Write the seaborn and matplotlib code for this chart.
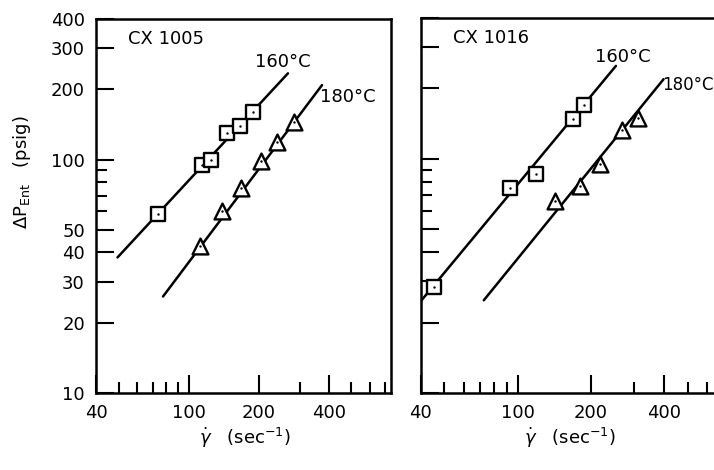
import numpy as np
import pandas as pd
import matplotlib
matplotlib.use("Agg")
import matplotlib.pyplot as plt
import seaborn as sns
from matplotlib.ticker import FixedLocator, FixedFormatter, NullFormatter

# ---- data ----
# CX 1005
cx1005_160_shear = [73.5, 114, 124.8, 146.6, 166.6, 189.4]
cx1005_160_dp = [58.3, 95, 99.5, 129.5, 139.6, 159.3]
cx1005_180_shear = [112.2, 139.7, 167.8, 204.6, 240.3, 282.3]
cx1005_180_dp = [42.6, 60.4, 75.7, 98.6, 119.2, 144.3]
cx1005_160_fit_shear = [49.5, 267]
cx1005_160_fit_dp = [38.1, 234]
cx1005_180_fit_shear = [77.6, 374]
cx1005_180_fit_dp = [25.9, 208.4]

# CX 1016
cx1016_160_shear = [45.3, 92.7, 118.9, 168.5, 187]
cx1016_160_dp = [28.4, 75.3, 86.4, 147.6, 170]
cx1016_180_shear = [141.8, 180.7, 216.8, 267.6, 311]
cx1016_180_dp = [66.4, 76.5, 94.7, 132.9, 149.1]
cx1016_160_fit_shear = [38.5, 252.9]
cx1016_160_fit_dp = [23.5, 249.7]
cx1016_180_fit_shear = [72.6, 396.6]
cx1016_180_fit_dp = [24.9, 219]

x_tick_values = [40, 100, 200, 400]
x_tick_labels = ["40", "100", "200", "400"]
x_minor_values = [50, 60, 70, 80, 90, 300, 500, 600, 700]
y_tick_values = [10, 20, 30, 40, 50, 100, 200, 300, 400]
y_tick_labels = ["10", "20", "30", "40", "50", "100", "200", "300", "400"]
y_minor_values = [60, 70, 80, 90]

sns.set_style("ticks")
plt.rcParams["font.family"] = ["DejaVu Sans"]
plt.rcParams["mathtext.fontset"] = "dejavusans"
plt.rcParams["text.color"] = "black"
plt.rcParams["axes.labelcolor"] = "black"
plt.rcParams["xtick.color"] = "black"
plt.rcParams["ytick.color"] = "black"

W, H = 714, 470
fig = plt.figure(figsize=(W / 100, H / 100), dpi=100)
fig.patch.set_facecolor("white")

ax1 = fig.add_axes([96 / W, (H - 393) / H, 295 / W, 374 / H])
ax2 = fig.add_axes([420.7 / W, (H - 393) / H, 303 / W, 375 / H])


def style_axis(ax, show_ylabels, xlim):
    ax.set_xscale("log")
    ax.set_yscale("log")
    ax.set_xlim(*xlim)
    ax.set_ylim(10, 400)
    ax.xaxis.set_major_locator(FixedLocator(x_tick_values))
    ax.xaxis.set_major_formatter(FixedFormatter(x_tick_labels))
    ax.xaxis.set_minor_locator(FixedLocator(x_minor_values))
    ax.xaxis.set_minor_formatter(NullFormatter())
    ax.yaxis.set_major_locator(FixedLocator(y_tick_values))
    if show_ylabels:
        ax.yaxis.set_major_formatter(FixedFormatter(y_tick_labels))
    else:
        ax.yaxis.set_major_formatter(NullFormatter())
    ax.yaxis.set_minor_locator(FixedLocator(y_minor_values))
    ax.yaxis.set_minor_formatter(NullFormatter())
    ax.tick_params(which="major", direction="in", length=13, width=1.5,
                   labelsize=13, pad=8, color="black", labelcolor="black")
    ax.tick_params(which="minor", direction="in", length=8, width=1.5,
                   color="black")
    ax.tick_params(top=False, right=False, which="both")
    for s in ax.spines.values():
        s.set_linewidth(1.8)
        s.set_color("black")
    ax.set_xlabel("")
    ax.set_ylabel("")
    ax.grid(False)
    ax.set_facecolor("white")


def draw_panel(ax, s160, d160, s180, d180, f160x, f160y, f180x, f180y):
    sns.lineplot(x=f160x, y=f160y, ax=ax, color="black", lw=1.8, legend=False)
    sns.lineplot(x=f180x, y=f180y, ax=ax, color="black", lw=1.8, legend=False)
    sns.scatterplot(x=s160, y=d160, ax=ax, marker="s", s=95, facecolor="white",
                    edgecolor="black", linewidth=1.7, zorder=3, legend=False)
    sns.scatterplot(x=s180, y=d180, ax=ax, marker="^", s=130, facecolor="white",
                    edgecolor="black", linewidth=1.7, zorder=3, legend=False)
    sns.scatterplot(x=s160 + s180, y=d160 + d180, ax=ax, marker="o", s=3,
                    color="black", linewidth=0, zorder=4, legend=False)


draw_panel(ax1, cx1005_160_shear, cx1005_160_dp, cx1005_180_shear, cx1005_180_dp,
           cx1005_160_fit_shear, cx1005_160_fit_dp, cx1005_180_fit_shear, cx1005_180_fit_dp)
draw_panel(ax2, cx1016_160_shear, cx1016_160_dp, cx1016_180_shear, cx1016_180_dp,
           cx1016_160_fit_shear, cx1016_160_fit_dp, cx1016_180_fit_shear, cx1016_180_fit_dp)

style_axis(ax1, True, (40, 740))
style_axis(ax2, False, (40, 700))

# panel labels
def px(x, y):
    return x / W, 1 - y / H

fs = 13
fig.text(*px(128, 39), "CX 1005", fontsize=fs, va="center", ha="left")
fig.text(*px(255, 62), "160°C", fontsize=fs, va="center", ha="left")
fig.text(*px(320, 97), "180°C", fontsize=fs, va="center", ha="left")
fig.text(*px(453, 38), "CX 1016", fontsize=fs, va="center", ha="left")
fig.text(*px(595, 57), "160°C", fontsize=fs, va="center", ha="left")
fig.text(*px(662, 85), "180°C", fontsize=12, va="center", ha="left")

# axis labels
fig.text(*px(22, 172), r"$\mathregular{\Delta P_{Ent}}$   (psig)", rotation=90,
         fontsize=fs, va="center", ha="center")
fig.text(*px(245, 438), r"$\dot{\gamma}$   (sec$^{-1}$)", fontsize=fs,
         va="center", ha="center")
fig.text(*px(570, 438), r"$\dot{\gamma}$   (sec$^{-1}$)", fontsize=fs,
         va="center", ha="center")

fig.savefig("out.png", dpi=100, facecolor="white")
